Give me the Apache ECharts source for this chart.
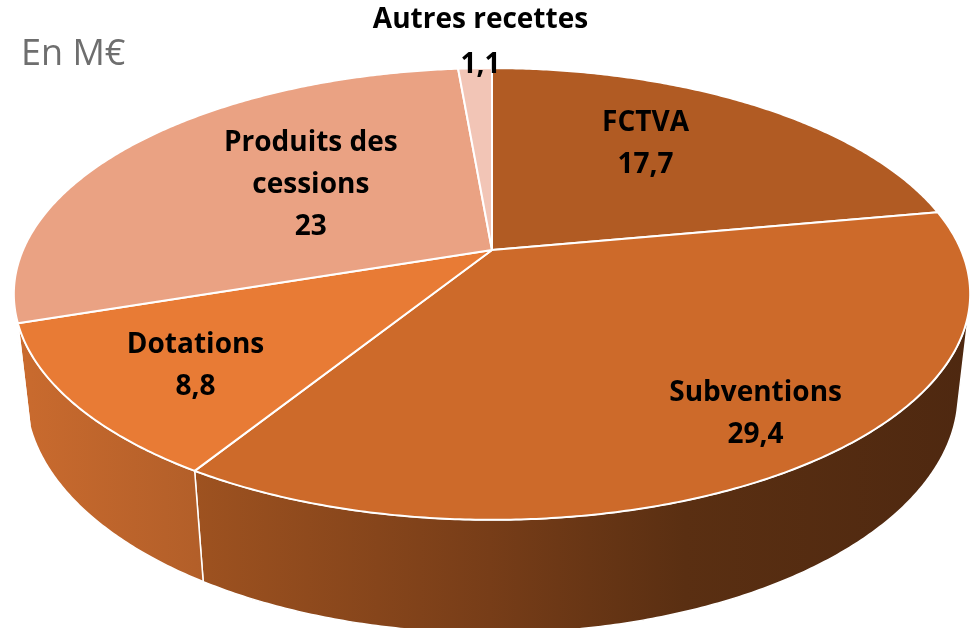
<!DOCTYPE html>
<html>
<head>
<meta charset="utf-8">
<script src="https://cdn.jsdelivr.net/npm/echarts@6/dist/echarts.min.js"></script>
<style>
html, body { margin: 0; padding: 0; background: #fff; }
#main { width: 979px; height: 628px; }
</style>
</head>
<body>
<div id="main"></div>
<script>
// données (M€)
var categories = ['FCTVA', 'Subventions', 'Dotations', 'Produits des\ncessions', 'Autres recettes'];
var values = [17.7, 29.4, 8.8, 23, 1.1];
var sliceColors = ['#B15B23', '#CD6A2A', '#E87B35', '#EAA283', '#F2C5B6'];

// placement des étiquettes (rayon relatif, décalage en degrés)
var labelRadius = [0.65, 0.82, 0.75, 0.52, 1.17];
var labelTurn = [-6, -2.5, -2, 4.6, 1];

// vue 3D : perspective simple
var view = {
    cx : 492,
    cy : 250,
    f : 2134,
    dist : 4.55,
    tilt : 27.6 * Math.PI / 180,
    depth : 0.242
};

function project(theta, r, h) {
    var X = r * Math.sin(theta), Z = r * Math.cos(theta);
    var ca = Math.cos(view.tilt), sa = Math.sin(view.tilt);
    var d = view.dist + Z * ca - h * sa;
    return [view.cx + view.f * X / d, view.cy - view.f * (h * ca + Z * sa) / d];
}

function shade(hex, k) {
    var n = parseInt(hex.slice(1), 16);
    var r = Math.round(((n >> 16) & 255) * k);
    var g = Math.round(((n >> 8) & 255) * k);
    var b = Math.round((n & 255) * k);
    return 'rgb(' + r + ',' + g + ',' + b + ')';
}

function sideFill(hex) {
    var stops = [[0, 0.88], [0.2, 0.77], [0.5, 0.58], [0.7, 0.44], [1, 0.38]];
    return new echarts.graphic.LinearGradient(0, 0, 979, 0, stops.map(function(s) {
        return { offset : s[0], color : shade(hex, s[1]) };
    }), true);
}

var total = values.reduce(function(a, b) { return a + b; }, 0);
var startAngles = [];
var acc = 0;
for (var i = 0; i < values.length; i++) {
    startAngles.push(acc / total * Math.PI * 2);
    acc += values[i];
}

// limite de visibilité de la paroi latérale
var sideLimit = Math.acos(-1 / (view.dist * Math.cos(view.tilt)));

function renderSlice(params, api) {
    var idx = params.dataIndex;
    var a0 = startAngles[idx];
    var a1 = a0 + values[idx] / total * Math.PI * 2;
    var step = Math.PI / 360;
    var children = [];

    // face supérieure
    var pts = [project(0, 0, 0)];
    for (var t = a0; t < a1; t += step) {
        pts.push(project(t, 1, 0));
    }
    pts.push(project(a1, 1, 0));
    children.push({
        type : 'polygon',
        z2 : 10,
        shape : { points : pts },
        style : { fill : sliceColors[idx], stroke : '#fff', lineWidth : 2, lineJoin : 'round' }
    });

    // paroi latérale visible
    var s = Math.max(a0, sideLimit);
    var e = Math.min(a1, Math.PI * 2 - sideLimit);
    if (s < e) {
        var top = [], bottom = [];
        for (var u = s; u < e; u += step) {
            top.push(project(u, 1, 0));
            bottom.push(project(u, 1, -view.depth));
        }
        top.push(project(e, 1, 0));
        bottom.push(project(e, 1, -view.depth));
        children.push({
            type : 'polygon',
            z2 : 1,
            shape : { points : top.concat(bottom.reverse()) },
            style : { fill : sideFill(sliceColors[idx]), stroke : '#fff', lineWidth : 1.5 }
        });
    }

    // étiquette
    var mid = (a0 + a1) / 2 + labelTurn[idx] * Math.PI / 180;
    var lp = project(mid, labelRadius[idx], 0);
    children.push({
        type : 'text',
        z2 : 20,
        style : {
            text : categories[idx] + '\n' + String(values[idx]).replace('.', ','),
            x : lp[0],
            y : lp[1],
            align : 'center',
            verticalAlign : 'middle',
            fill : '#000',
            font : 'bold 28px "Open Sans"',
            lineHeight : idx === 4 ? 45 : 42
        }
    });

    return { type : 'group', children : children };
}

var chart = echarts.init(document.getElementById('main'));
chart.setOption({
    animation : false,
    title : {
        text : 'En M€',
        left : 16,
        top : 32,
        textStyle : {
            fontFamily : 'Open Sans',
            fontSize : 36,
            fontWeight : 'normal',
            color : '#6e6e6e'
        }
    },
    series : [ {
        type : 'custom',
        coordinateSystem : 'none',
        renderItem : renderSlice,
        data : values
    } ]
});
</script>
</body>
</html>
